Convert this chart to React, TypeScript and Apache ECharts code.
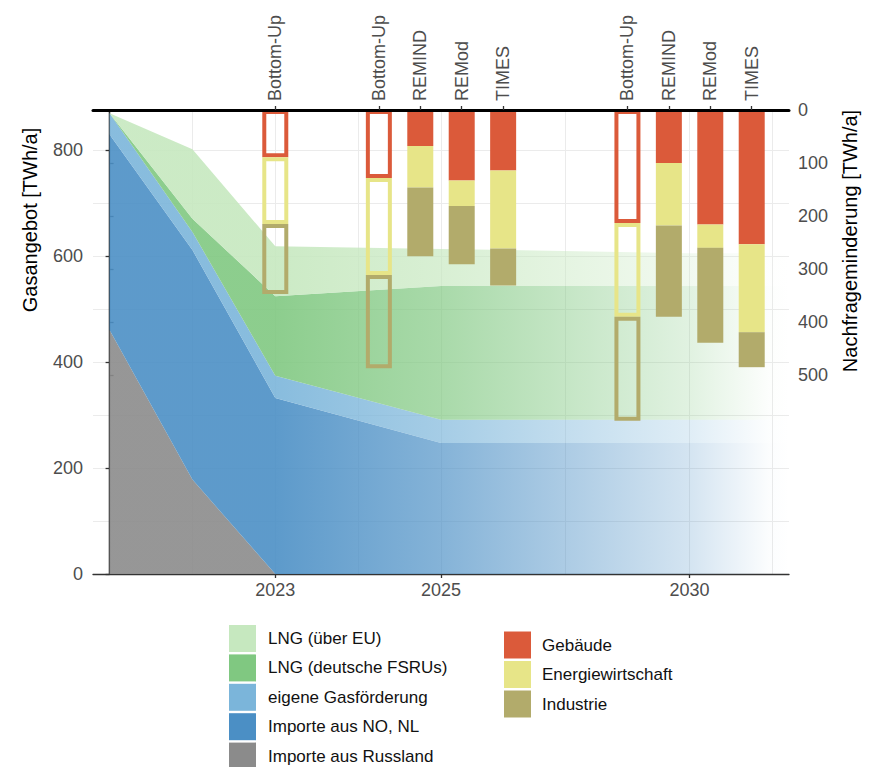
import React, { useEffect, useRef } from 'react';
import * as echarts from 'echarts';

// ---------- data ----------
const supplyYears = [2021, 2022, 2023, 2025, 2030, 2032];
const importeRussland = [460, 178, 0, 0, 0, 0];
const importeNoNl = [369, 433, 332, 247, 247, 247];
const eigeneGasfoerderung = [40, 34, 42, 44, 44, 44];
const lngFsru = [0, 25, 150, 252, 252, 252];
const lngEu = [0, 131, 94, 70, 62, 62];

const barModels = ['Bottom-Up', 'Bottom-Up', 'REMIND', 'REMod', 'TIMES', 'Bottom-Up', 'REMIND', 'REMod', 'TIMES'];
const barYears = [2023, 2025, 2025, 2025, 2025, 2030, 2030, 2030, 2030];
const gebaeude = [89, 128, 68, 133, 114, 213, 100, 216, 253];
const energiewirtschaft = [126, 183, 78, 48, 147, 177, 118, 44, 166];
const industrie = [132, 176, 130, 110, 70, 196, 172, 179, 66];

const xTickYears = [2023, 2025, 2030];
const supplyTicks = [0, 200, 400, 600, 800];
const demandTicks = [0, 100, 200, 300, 400, 500];
const axisTop = 875;

// ---------- styling ----------
const supplySeries = [
  { name: 'Importe aus Russland', values: importeRussland, rgb: '139,139,139', legend: '#8b8b8b' },
  { name: 'Importe aus NO, NL', values: importeNoNl, rgb: '75,143,197', legend: '#4b8fc5' },
  { name: 'eigene Gasförderung', values: eigeneGasfoerderung, rgb: '123,181,218', legend: '#7bb5da' },
  { name: 'LNG (deutsche FSRUs)', values: lngFsru, rgb: '128,200,129', legend: '#80c881' },
  { name: 'LNG (über EU)', values: lngEu, rgb: '198,232,191', legend: '#c6e8bf' },
];
const demandSeries = [
  { name: 'Gebäude', values: gebaeude, color: '#db5a3a' },
  { name: 'Energiewirtschaft', values: energiewirtschaft, color: '#e7e588' },
  { name: 'Industrie', values: industrie, color: '#b2ab6b' },
];

// compressed year scale of the original (2025–2030 squeezed)
function yearToPos(y: number) {
  return y <= 2025 ? y - 2021 : 4 + (y - 2025) * 0.6;
}

const barPos = barYears.map((y, i) => {
  const group = barYears.map((yy, j) => (yy === y ? j : -1)).filter((j) => j >= 0);
  const k = group.indexOf(i);
  return yearToPos(y) + (k - (group.length - 1) / 2) * 0.5;
});
const xTickPos = xTickYears.map(yearToPos);
const gridPos = (() => {
  const out: number[] = [...xTickPos];
  for (let i = 0; i < xTickPos.length - 1; i++) out.push((xTickPos[i] + xTickPos[i + 1]) / 2);
  out.push(xTickPos[0] - 1, xTickPos[xTickPos.length - 1] + 1);
  return out.sort((a, b) => a - b);
})();

const FONT = '"Liberation Sans", Arial, sans-serif';

export default function App() {
  const ref = useRef<HTMLDivElement>(null);
  useEffect(() => {
    if (!ref.current) return;
    const chart = echarts.init(ref.current, undefined, { renderer: 'svg' });

    const p0 = yearToPos(supplyYears[0]);
    const span = yearToPos(supplyYears[supplyYears.length - 1]) - p0;
    const off = (y: number) => (yearToPos(y) - p0) / span;
    const fade = (rgb: string) =>
      new echarts.graphic.LinearGradient(0, 0, 1, 0, [
        { offset: 0, color: `rgba(${rgb},0.9)` },
        { offset: off(2023), color: `rgba(${rgb},0.9)` },
        { offset: off(2025), color: `rgba(${rgb},0.68)` },
        { offset: off(2030), color: `rgba(${rgb},0.24)` },
        { offset: 0.97, color: `rgba(${rgb},0.02)` },
        { offset: 1, color: `rgba(${rgb},0)` },
      ]);

    const near = (arr: number[], v: number) => arr.findIndex((p) => Math.abs(p - v) < 1e-6);
    const tickLabel = { color: '#4d4d4d', fontSize: 18, fontFamily: FONT };
    const axisLine = { show: true, lineStyle: { color: '#333', width: 1.3 } };

    const legendLeft = [...supplySeries].reverse();
    const graphic: any[] = [];
    legendLeft.forEach((s, i) => {
      graphic.push({
        type: 'rect',
        shape: { x: 229, y: 625 + i * 29.4, width: 27, height: 27 },
        style: { fill: s.legend },
      });
      graphic.push({
        type: 'text',
        x: 268,
        y: 638.5 + i * 29.4,
        style: { text: s.name, font: `17px ${FONT}`, fill: '#111', textAlign: 'left', textVerticalAlign: 'middle' },
      });
    });
    demandSeries.forEach((s, i) => {
      graphic.push({
        type: 'rect',
        shape: { x: 504, y: 631.5 + i * 29.5, width: 27, height: 27 },
        style: { fill: s.color },
      });
      graphic.push({
        type: 'text',
        x: 542,
        y: 645 + i * 29.5,
        style: { text: s.name, font: `17px ${FONT}`, fill: '#111', textAlign: 'left', textVerticalAlign: 'middle' },
      });
    });
    graphic.push({
      type: 'text',
      x: 30,
      y: 220,
      rotation: Math.PI / 2,
      style: { text: 'Gasangebot [TWh/a]', font: `20px ${FONT}`, fill: '#000', textAlign: 'center', textVerticalAlign: 'middle' },
    });
    graphic.push({
      type: 'text',
      x: 850,
      y: 241,
      rotation: Math.PI / 2,
      style: { text: 'Nachfrageminderung [TWh/a]', font: `20px ${FONT}`, fill: '#000', textAlign: 'center', textVerticalAlign: 'middle' },
    });

    const option: any = {
      animation: false,
      backgroundColor: '#fff',
      textStyle: { fontFamily: FONT },
      grid: { left: 93, right: 88, top: 110, bottom: 193, containLabel: false, outerBoundsMode: 'none' },
      xAxis: [
        {
          type: 'value',
          position: 'bottom',
          min: -0.2,
          max: 8.2,
          axisLine,
          axisTick: { show: true, length: 4, customValues: xTickPos, lineStyle: { color: '#333', width: 1.3 } },
          axisLabel: {
            ...tickLabel,
            margin: 7,
            customValues: xTickPos,
            formatter: (v: number) => {
              const i = near(xTickPos, v);
              return i >= 0 ? String(xTickYears[i]) : '';
            },
          },
          splitLine: { show: false },
        },
        {
          type: 'value',
          position: 'top',
          min: -0.2,
          max: 8.2,
          z: 10,
          axisLine: { show: true, lineStyle: { color: '#000', width: 3 } },
          axisTick: { show: true, length: 4, customValues: barPos, lineStyle: { color: '#333', width: 1.3 } },
          axisLabel: {
            ...tickLabel,
            margin: 9,
            rotate: 90,
            customValues: barPos,
            formatter: (v: number) => {
              const i = near(barPos, v);
              return i >= 0 ? barModels[i] : '';
            },
          },
          splitLine: { show: false },
        },
        {
          type: 'value',
          position: 'bottom',
          min: -0.2,
          max: 8.2,
          axisLine: { show: false },
          axisTick: { show: false, customValues: gridPos },
          axisLabel: { show: false },
          splitLine: { show: true, lineStyle: { color: '#ebebeb', width: 1 } },
        },
      ],
      yAxis: [
        {
          type: 'value',
          position: 'left',
          min: 0,
          max: axisTop,
          axisLine,
          axisTick: { show: true, length: 4, customValues: supplyTicks, lineStyle: { color: '#333', width: 1.3 } },
          axisLabel: { ...tickLabel, margin: 10, customValues: supplyTicks },
          splitLine: { show: false },
        },
        {
          type: 'value',
          position: 'right',
          inverse: true,
          min: 0,
          max: axisTop,
          axisLine,
          axisTick: { show: true, length: 4, customValues: demandTicks, lineStyle: { color: '#333', width: 1.3 } },
          axisLabel: { ...tickLabel, margin: 9, customValues: demandTicks },
          splitLine: { show: false },
        },
        {
          type: 'value',
          position: 'left',
          min: 0,
          max: axisTop,
          interval: 100,
          axisLine: { show: false },
          axisTick: { show: false },
          axisLabel: { show: false },
          splitLine: { show: true, lineStyle: { color: '#ebebeb', width: 1 } },
        },
      ],
      graphic,
      series: [
        // data rows are [value, position] so that the value (y) dimension is the one stacked
        ...supplySeries.map((s) => ({
          name: s.name,
          type: 'line',
          stack: 'supply',
          xAxisIndex: 0,
          yAxisIndex: 0,
          encode: { x: 1, y: 0 },
          symbol: 'none',
          silent: true,
          z: 2,
          lineStyle: { width: 0 },
          itemStyle: { color: s.legend },
          areaStyle: { color: fade(s.rgb), opacity: 1 },
          data: supplyYears.map((y, i) => [s.values[i], yearToPos(y)]),
        })),
        ...demandSeries.map((s) => ({
          name: s.name,
          type: 'bar',
          stack: 'demand',
          xAxisIndex: 0,
          yAxisIndex: 1,
          encode: { x: 1, y: 0 },
          barWidth: 26,
          z: 3,
          data: s.values.map((v, i) => ({
            value: [v, barPos[i]],
            itemStyle:
              barModels[i] === 'Bottom-Up'
                ? { color: 'rgba(0,0,0,0)', borderColor: s.color, borderWidth: 4 }
                : { color: s.color, borderWidth: 0 },
          })),
        })),
      ],
    };
    chart.setOption(option);
    return () => chart.dispose();
  }, []);
  return <div ref={ref} style={{ position: 'absolute', left: 0, top: 0, width: 877, height: 767 }} />;
}
